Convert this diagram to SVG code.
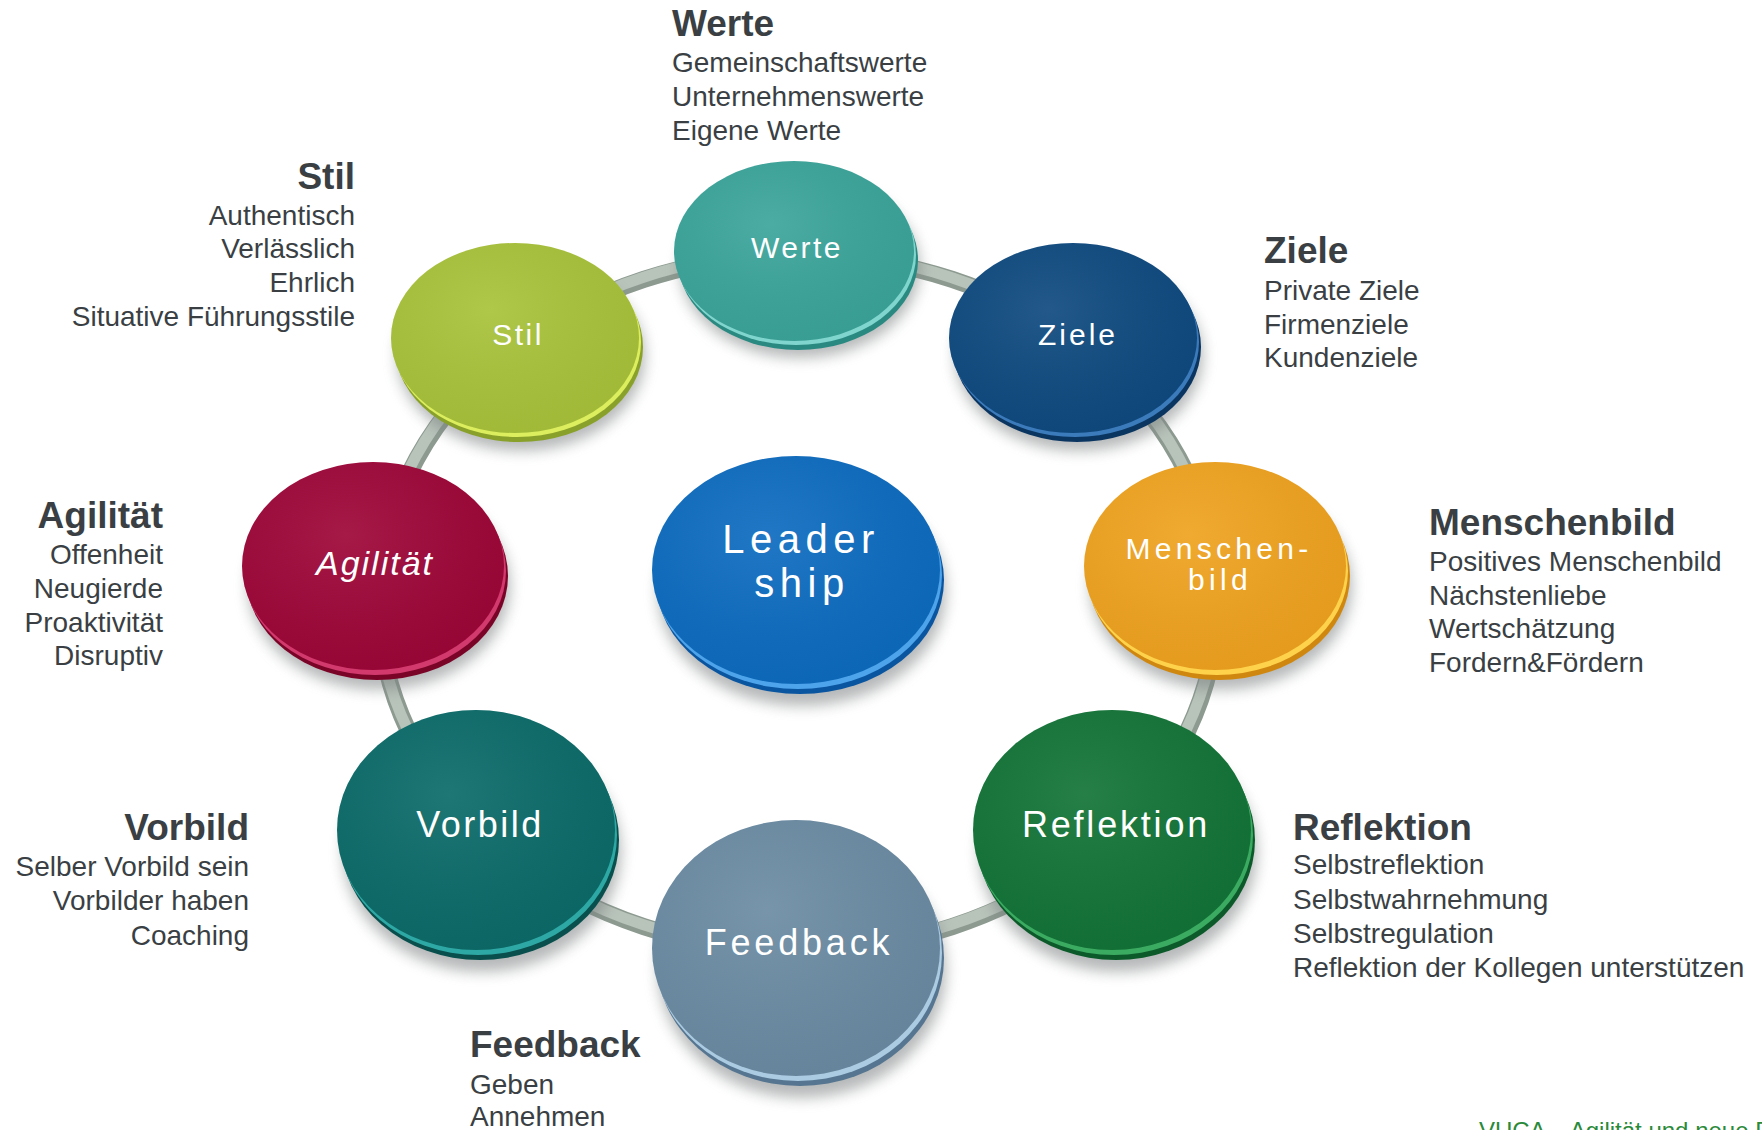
<svg xmlns="http://www.w3.org/2000/svg" width="1762" height="1130" viewBox="0 0 1762 1130">
<defs>
<filter id="sh" x="-30%" y="-30%" width="160%" height="160%"><feGaussianBlur stdDeviation="7"/></filter>
<radialGradient id="gloss" cx="0.4" cy="0.35" r="0.7">
<stop offset="0" stop-color="#fff" stop-opacity="0.08"/>
<stop offset="1" stop-color="#000" stop-opacity="0.05"/>
</radialGradient>
</defs>
<style>
.h{font-family:"Liberation Sans",Arial,sans-serif;font-weight:bold;font-size:37px;fill:#3a3f44}
.t{font-family:"Liberation Sans",Arial,sans-serif;font-size:28px;fill:#3a3f44}
.r{text-anchor:end}
.lb{font-family:"Liberation Sans",Arial,sans-serif;fill:#fff;text-anchor:middle}
.shadow{fill:#7a7f80;opacity:0.55;filter:url(#sh)}
.gl{fill:url(#gloss)}
.ring1{fill:none;stroke:#8c9a90;stroke-width:17}
.ring2{fill:none;stroke:#b8c3ba;stroke-width:11}
.foot{font-family:"Liberation Sans",Arial,sans-serif;font-size:24px;fill:#2a8a3a}
</style>
<rect width="1762" height="1130" fill="#fff"/>

<g id="connectors">
<ellipse class="ring1" cx="798" cy="603" rx="419" ry="348"/>
<ellipse class="ring2" cx="797" cy="601" rx="419" ry="348"/>
</g>

<g id="node-werte">
<ellipse class="shadow" cx="800" cy="268" rx="120" ry="90"/>
<ellipse cx="798" cy="260" rx="120" ry="90" fill="#2a8a82"/>
<ellipse cx="796" cy="255" rx="120" ry="90" fill="#80d6ce"/>
<ellipse cx="794" cy="251" rx="120" ry="90" fill="#3ba59b"/>
<ellipse class="gl" cx="794" cy="251" rx="120" ry="90"/>
<text class="lb" x="797" y="258" font-size="30" letter-spacing="2.5">Werte</text>
</g>

<g id="node-stil">
<ellipse class="shadow" cx="521" cy="356" rx="124" ry="95"/>
<ellipse cx="519" cy="347" rx="124" ry="95" fill="#89a12a"/>
<ellipse cx="517" cy="342" rx="124" ry="95" fill="#dcee5e"/>
<ellipse cx="515" cy="338" rx="124" ry="95" fill="#a9c33a"/>
<ellipse class="gl" cx="515" cy="338" rx="124" ry="95"/>
<text class="lb" x="518" y="345" font-size="30" letter-spacing="2.5">Stil</text>
</g>

<g id="node-ziele">
<ellipse class="shadow" cx="1079" cy="356" rx="124" ry="95"/>
<ellipse cx="1077" cy="347" rx="124" ry="95" fill="#0a3560"/>
<ellipse cx="1075" cy="342" rx="124" ry="95" fill="#3c7bbb"/>
<ellipse cx="1073" cy="338" rx="124" ry="95" fill="#0f4a80"/>
<ellipse class="gl" cx="1073" cy="338" rx="124" ry="95"/>
<text class="lb" x="1078" y="345" font-size="30" letter-spacing="3">Ziele</text>
</g>

<g id="node-agilitaet">
<ellipse class="shadow" cx="379" cy="586" rx="131" ry="104"/>
<ellipse cx="377" cy="576" rx="131" ry="104" fill="#7a0428"/>
<ellipse cx="375" cy="571" rx="131" ry="104" fill="#d23a6e"/>
<ellipse cx="373" cy="566" rx="131" ry="104" fill="#9e0638"/>
<ellipse class="gl" cx="373" cy="566" rx="131" ry="104"/>
<text class="lb" x="375" y="575" font-size="34" font-style="italic" letter-spacing="2">Agilität</text>
</g>

<g id="node-menschenbild">
<ellipse class="shadow" cx="1221" cy="586" rx="131" ry="104"/>
<ellipse cx="1219" cy="576" rx="131" ry="104" fill="#cf8710"/>
<ellipse cx="1217" cy="571" rx="131" ry="104" fill="#ffd24c"/>
<ellipse cx="1215" cy="566" rx="131" ry="104" fill="#f0a31f"/>
<ellipse class="gl" cx="1215" cy="566" rx="131" ry="104"/>
<text class="lb" x="1219" y="559" font-size="30" letter-spacing="4.3">Menschen-</text>
<text class="lb" x="1220" y="590" font-size="30" letter-spacing="4.3">bild</text>
</g>

<g id="node-leadership">
<ellipse class="shadow" cx="802" cy="592" rx="144" ry="114"/>
<ellipse cx="800" cy="580" rx="144" ry="114" fill="#0a55a0"/>
<ellipse cx="798" cy="575" rx="144" ry="114" fill="#4ea4ea"/>
<ellipse cx="796" cy="570" rx="144" ry="114" fill="#0d6cc0"/>
<ellipse class="gl" cx="796" cy="570" rx="144" ry="114"/>
<text class="lb" x="801" y="553" font-size="40" letter-spacing="5.5">Leader</text>
<text class="lb" x="802" y="597" font-size="40" letter-spacing="5.5">ship</text>
</g>

<g id="node-vorbild">
<ellipse class="shadow" cx="482" cy="852" rx="139" ry="120"/>
<ellipse cx="480" cy="840" rx="139" ry="120" fill="#084f4d"/>
<ellipse cx="478" cy="835" rx="139" ry="120" fill="#2ea8a4"/>
<ellipse cx="476" cy="830" rx="139" ry="120" fill="#0b6b69"/>
<ellipse class="gl" cx="476" cy="830" rx="139" ry="120"/>
<text class="lb" x="480" y="837" font-size="36" letter-spacing="2.5">Vorbild</text>
</g>

<g id="node-reflektion">
<ellipse class="shadow" cx="1118" cy="852" rx="139" ry="120"/>
<ellipse cx="1116" cy="840" rx="139" ry="120" fill="#0c5a2a"/>
<ellipse cx="1114" cy="835" rx="139" ry="120" fill="#3cab62"/>
<ellipse cx="1112" cy="830" rx="139" ry="120" fill="#127437"/>
<ellipse class="gl" cx="1112" cy="830" rx="139" ry="120"/>
<text class="lb" x="1116" y="837" font-size="36" letter-spacing="2.8">Reflektion</text>
</g>

<g id="node-feedback">
<ellipse class="shadow" cx="802" cy="970" rx="144" ry="128"/>
<ellipse cx="800" cy="958" rx="144" ry="128" fill="#557590"/>
<ellipse cx="798" cy="953" rx="144" ry="128" fill="#abcbe2"/>
<ellipse cx="796" cy="948" rx="144" ry="128" fill="#6b8ba3"/>
<ellipse class="gl" cx="796" cy="948" rx="144" ry="128"/>
<text class="lb" x="799" y="955" font-size="36" letter-spacing="3.8">Feedback</text>
</g>

<g id="text-werte">
<text class="h" x="672" y="36">Werte</text>
<text class="t" x="672" y="72">Gemeinschaftswerte</text>
<text class="t" x="672" y="106">Unternehmenswerte</text>
<text class="t" x="672" y="140">Eigene Werte</text>
</g>

<g id="text-stil">
<text class="h r" x="355" y="189">Stil</text>
<text class="t r" x="355" y="225">Authentisch</text>
<text class="t r" x="355" y="258">Verlässlich</text>
<text class="t r" x="355" y="292">Ehrlich</text>
<text class="t r" x="355" y="326">Situative Führungsstile</text>
</g>

<g id="text-ziele">
<text class="h" x="1264" y="263">Ziele</text>
<text class="t" x="1264" y="300">Private Ziele</text>
<text class="t" x="1264" y="334">Firmenziele</text>
<text class="t" x="1264" y="367">Kundenziele</text>
</g>

<g id="text-agilitaet">
<text class="h r" x="163" y="528">Agilität</text>
<text class="t r" x="163" y="564">Offenheit</text>
<text class="t r" x="163" y="598">Neugierde</text>
<text class="t r" x="163" y="632">Proaktivität</text>
<text class="t r" x="163" y="665">Disruptiv</text>
</g>

<g id="text-menschenbild">
<text class="h" x="1429" y="535">Menschenbild</text>
<text class="t" x="1429" y="571">Positives Menschenbild</text>
<text class="t" x="1429" y="605">Nächstenliebe</text>
<text class="t" x="1429" y="638">Wertschätzung</text>
<text class="t" x="1429" y="672">Fordern&amp;Fördern</text>
</g>

<g id="text-vorbild">
<text class="h r" x="249" y="840">Vorbild</text>
<text class="t r" x="249" y="876">Selber Vorbild sein</text>
<text class="t r" x="249" y="910">Vorbilder haben</text>
<text class="t r" x="249" y="945">Coaching</text>
</g>

<g id="text-reflektion">
<text class="h" x="1293" y="840">Reflektion</text>
<text class="t" x="1293" y="874">Selbstreflektion</text>
<text class="t" x="1293" y="909">Selbstwahrnehmung</text>
<text class="t" x="1293" y="943">Selbstregulation</text>
<text class="t" x="1293" y="977">Reflektion der Kollegen unterstützen</text>
</g>

<g id="text-feedback">
<text class="h" x="470" y="1057">Feedback</text>
<text class="t" x="470" y="1094">Geben</text>
<text class="t" x="470" y="1126">Annehmen</text>
</g>

<g id="footer">
<text class="foot" x="1479" y="1139">VUCA – Agilität und neue Führung</text>
</g>
</svg>
